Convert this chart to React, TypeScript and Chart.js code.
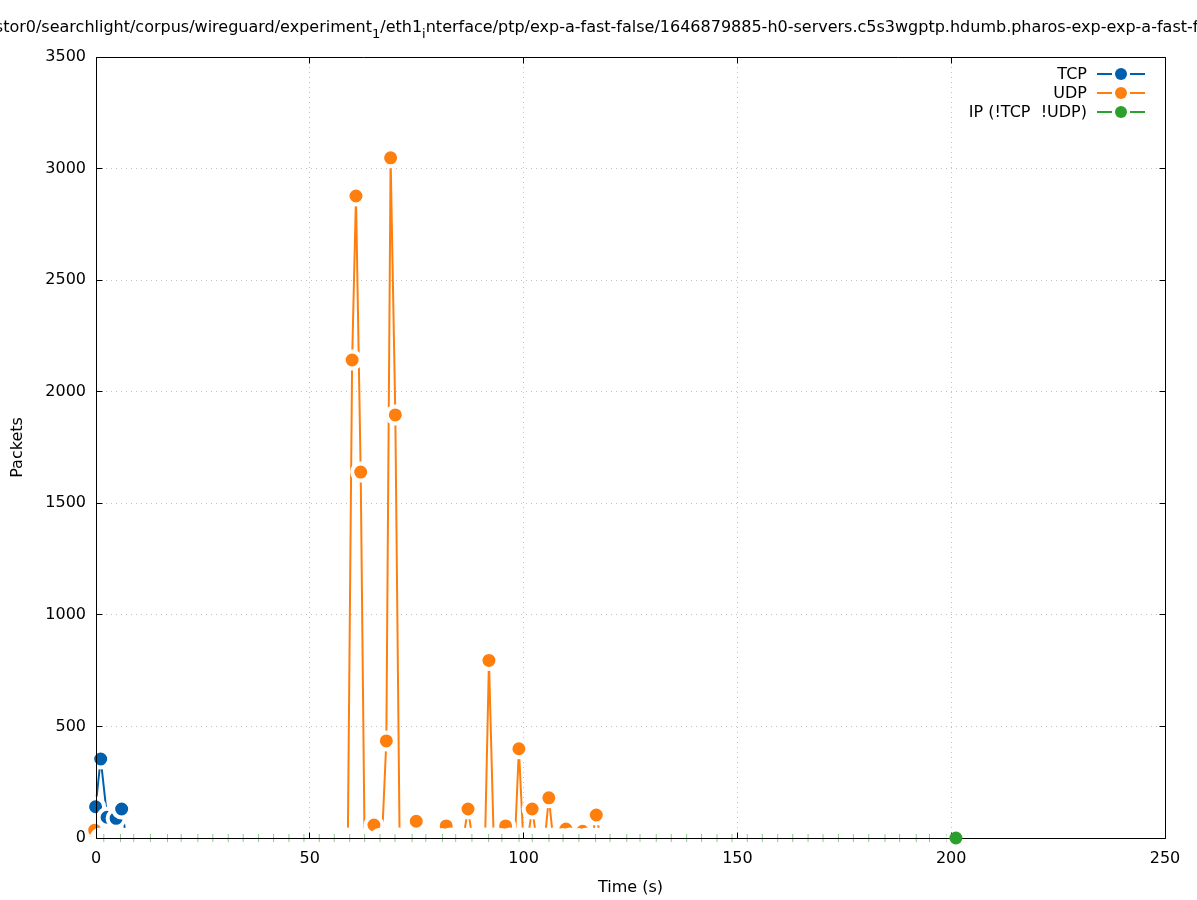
import React, { useEffect, useRef } from 'react';
import { Chart, registerables } from 'chart.js';

Chart.register(...registerables);

// Series names and colours
const SERIES_NAMES = ['TCP', 'UDP', 'IP (!TCP  !UDP)'];
const SERIES_COLORS = ['#0060ad', '#ff7f0e', '#2ca02c'];

// Packet counts per sample (time in seconds)
const tcpTimes = [-0.1, 1.1, 2.6, 4.7, 6.0, 7.1];
const tcpPackets = [140, 354, 93, 88, 130, 0];

const udpTimes = [
  -0.3, 1.0, 58.9, 59.9, 60.8, 61.9, 62.8, 65.0, 66.9, 67.9, 68.9, 70.0, 71.0,
  73.9, 74.9, 75.9, 80.9, 81.9, 82.9, 85.9, 87.0, 88.0, 91.0, 91.9, 93.0,
  94.8, 95.8, 96.8, 98.0, 98.9, 99.9, 101.0, 102.0, 103.0, 105.0, 105.9, 106.9,
  108.9, 109.9, 110.9, 112.8, 113.8, 114.8, 116.0, 117.0, 118.0,
];
const udpPackets = [
  35, 0, 0, 2142, 2877, 1640, 0, 58, 0, 435, 3048, 1896, 0,
  0, 75, 0, 0, 54, 0, 0, 130, 0, 0, 796, 0,
  0, 54, 0, 0, 400, 0, 0, 130, 0, 0, 180, 0,
  0, 40, 0, 0, 30, 0, 0, 103, 0,
];

const ipTimes = [
  1.7, 5.6, 8.7, 12.6, 16.6, 19.8, 23.7, 27.2, 30.8, 34.3,
  37.9, 41.4, 45.0, 48.5, 52.1, 55.6, 59.2, 62.7, 66.3, 69.8,
  73.8, 77.0, 80.9, 84.0, 87.8, 91.7, 94.8, 98.8, 101.9, 105.8,
  109.1, 112.8, 116.7, 120.1, 124.0, 127.1, 130.9, 134.4, 138.0, 141.5,
  145.1, 148.6, 152.2, 155.7, 159.3, 162.8, 166.4, 169.9, 173.5, 177.0,
  180.6, 184.4, 187.8, 191.7, 194.8, 198.8, 201.1,
];
const ipPackets = [
  0, 0, 0, 0, 0, 0, 0, 0, 0, 0,
  0, 0, 0, 0, 0, 0, 0, 0, 0, 0,
  0, 0, 0, 0, 0, 0, 0, 0, 0, 0,
  0, 0, 0, 0, 0, 0, 0, 0, 0, 0,
  0, 0, 0, 0, 0, 0, 0, 0, 0, 0,
  0, 0, 0, 0, 0, 0, 0,
];

// Axis ranges and tick steps
const X_MIN = 0, X_MAX = 250, X_STEP = 50;
const Y_MIN = 0, Y_MAX = 3500, Y_STEP = 500;

// Title pieces (subscripted pieces come from enhanced-text underscores)
const TITLE_PARTS = [
  { text: 'stor0/searchlight/corpus/wireguard/experiment', sub: false },
  { text: '1', sub: true },
  { text: '/eth1', sub: false },
  { text: 'i', sub: true },
  { text: 'nterface/ptp/exp-a-fast-false/1646879885-h0-servers.c5s3wgptp.hdumb.pharos-exp-exp-a-fast-false', sub: false },
];

const FONT = '"DejaVu Sans", "Liberation Sans", sans-serif';
const W = 1197;
const H = 900;
const GRID_COLOR = 'rgba(170,170,170,0.75)';

const toPoints = (xs: number[], ys: number[]) => xs.map((x, i) => ({ x, y: ys[i] }));

// Filled marker with a white halo; zero samples only leave the halo
const markerFill = (color: string) => (ctx: any) => (ctx.raw && ctx.raw.y === 0 ? '#ffffff' : color);

function makeBaselineMarker(): HTMLCanvasElement {
  const c = document.createElement('canvas');
  c.width = 22;
  c.height = 22;
  const g = c.getContext('2d')!;
  g.fillStyle = '#ffffff';
  g.beginPath();
  g.arc(11, 11, 10, 0, Math.PI * 2);
  g.fill();
  g.strokeStyle = 'rgba(44,160,44,0.55)';
  g.lineWidth = 1;
  g.beginPath();
  g.moveTo(11.5, 7);
  g.lineTo(11.5, 15);
  g.stroke();
  return c;
}

const DOT_INDEX = 3;

const framePlugin = {
  id: 'gnuFrame',
  beforeDatasetDraw(chart: any, args: any) {
    if (args.index !== DOT_INDEX) return;
    const { ctx, chartArea: a, scales } = chart;
    const L = Math.floor(a.left) + 0.5;
    const R = Math.floor(a.right) + 0.5;
    const T = Math.floor(a.top) + 0.5;
    const B = Math.floor(a.bottom) + 0.5;
    const len = 6;
    ctx.save();
    ctx.strokeStyle = '#000';
    ctx.lineWidth = 1;
    ctx.beginPath();
    ctx.rect(L, T, R - L, B - T);
    for (const t of scales.y.ticks) {
      const p = Math.floor(scales.y.getPixelForValue(t.value)) + 0.5;
      ctx.moveTo(L, p); ctx.lineTo(L + len, p);
      ctx.moveTo(R, p); ctx.lineTo(R - len, p);
    }
    for (const t of scales.x.ticks) {
      const p = Math.floor(scales.x.getPixelForValue(t.value)) + 0.5;
      ctx.moveTo(p, B); ctx.lineTo(p, B - len);
      ctx.moveTo(p, T); ctx.lineTo(p, T + len);
    }
    ctx.stroke();
    ctx.restore();
  },
};

const TITLE_ANCHOR_X = 372;
const titlePlugin = {
  id: 'pathTitle',
  afterDraw(chart: any) {
    const ctx = chart.ctx;
    const main = `16px ${FONT}`;
    const sub = `13px ${FONT}`;
    ctx.save();
    ctx.fillStyle = '#000';
    ctx.textBaseline = 'alphabetic';
    ctx.textAlign = 'left';
    ctx.font = main;
    let x = TITLE_ANCHOR_X - ctx.measureText(TITLE_PARTS[0].text).width;
    for (const part of TITLE_PARTS) {
      ctx.font = part.sub ? sub : main;
      ctx.fillText(part.text, x, part.sub ? 38 : 32);
      x += ctx.measureText(part.text).width;
    }
    ctx.restore();
  },
};

const legendPlugin = {
  id: 'gnuKey',
  afterDraw(chart: any) {
    const ctx = chart.ctx;
    const textRight = 1087;
    const lineL = 1097;
    const dotX = 1121;
    const lineR = 1145;
    const gap = 9;
    ctx.save();
    ctx.font = `16px ${FONT}`;
    ctx.textAlign = 'right';
    ctx.textBaseline = 'middle';
    SERIES_NAMES.forEach((name, i) => {
      const y = 74 + i * 19;
      ctx.fillStyle = '#000';
      ctx.fillText(name, textRight, y + 1);
      ctx.strokeStyle = SERIES_COLORS[i];
      ctx.lineWidth = 2;
      ctx.beginPath();
      ctx.moveTo(lineL, y); ctx.lineTo(dotX - gap, y);
      ctx.moveTo(dotX + gap, y); ctx.lineTo(lineR, y);
      ctx.stroke();
      ctx.fillStyle = SERIES_COLORS[i];
      ctx.beginPath();
      ctx.arc(dotX, y, 6, 0, Math.PI * 2);
      ctx.fill();
    });
    ctx.restore();
  },
};

export default function App() {
  const ref = useRef<HTMLCanvasElement | null>(null);

  useEffect(() => {
    document.body.style.margin = '0';
    const canvas = ref.current;
    if (!canvas) return;
    const baselineMarker = makeBaselineMarker();
    const lastIp = ipTimes.length - 1;

    const lineSeries = (i: number, xs: number[], ys: number[], order: number) => ({
      label: SERIES_NAMES[i],
      data: toPoints(xs, ys),
      borderColor: SERIES_COLORS[i],
      borderWidth: 2,
      tension: 0,
      pointRadius: 8.5,
      pointHoverRadius: 8.5,
      pointBorderWidth: 4,
      pointBorderColor: '#ffffff',
      pointBackgroundColor: markerFill(SERIES_COLORS[i]),
      clip: { left: 20, top: 0, right: 0, bottom: -1.5 },
      order,
    });

    const chart = new Chart(canvas, {
      type: 'line',
      data: {
        datasets: [
          lineSeries(0, tcpTimes, tcpPackets, 3),
          lineSeries(1, udpTimes, udpPackets, 2),
          {
            label: SERIES_NAMES[2],
            data: toPoints(ipTimes, ipPackets),
            borderColor: SERIES_COLORS[2],
            showLine: false,
            pointStyle: baselineMarker,
            pointRadius: 10,
            clip: { left: 20, top: 0, right: 20, bottom: 4 },
            order: 1,
          },
          {
            label: SERIES_NAMES[2],
            data: [{ x: ipTimes[lastIp], y: ipPackets[lastIp] }],
            showLine: false,
            pointRadius: 6.5,
            pointBorderWidth: 0,
            pointBackgroundColor: SERIES_COLORS[2],
            clip: false,
            order: 0,
          },
        ] as any,
      },
      options: {
        responsive: false,
        animation: false,
        devicePixelRatio: 1,
        layout: { padding: { top: 57, right: 32, bottom: 0, left: 0 } },
        plugins: {
          legend: { display: false },
          title: { display: false },
          tooltip: { enabled: false },
        },
        events: [],
        scales: {
          x: {
            type: 'linear',
            min: X_MIN,
            max: X_MAX,
            afterFit: (s: any) => { s.height = 62; },
            ticks: {
              stepSize: X_STEP,
              autoSkip: false,
              maxRotation: 0,
              padding: 11,
              color: '#000',
              font: { family: FONT, size: 16 },
            },
            grid: { color: GRID_COLOR, lineWidth: 1, drawTicks: false },
            border: { display: false, dash: [1, 4] },
            title: {
              display: true,
              text: 'Time (s)',
              color: '#000',
              font: { family: FONT, size: 16 },
              padding: { top: 0, bottom: 3 },
            },
          },
          y: {
            type: 'linear',
            min: Y_MIN,
            max: Y_MAX,
            afterFit: (s: any) => { s.width = 96; },
            ticks: {
              stepSize: Y_STEP,
              padding: 10,
              color: '#000',
              font: { family: FONT, size: 16 },
              callback: (v: any) => String(v),
            },
            grid: { color: GRID_COLOR, lineWidth: 1, drawTicks: false },
            border: { display: false, dash: [1, 4] },
            title: {
              display: true,
              text: 'Packets',
              color: '#000',
              font: { family: FONT, size: 16 },
              padding: { top: 8, bottom: 0 },
            },
          },
        },
      } as any,
      plugins: [framePlugin, titlePlugin, legendPlugin],
    });

    return () => chart.destroy();
  }, []);

  return (
    <div style={{ width: W, height: H, background: '#fff' }}>
      <canvas ref={ref} width={W} height={H} style={{ display: 'block' }} />
    </div>
  );
}
